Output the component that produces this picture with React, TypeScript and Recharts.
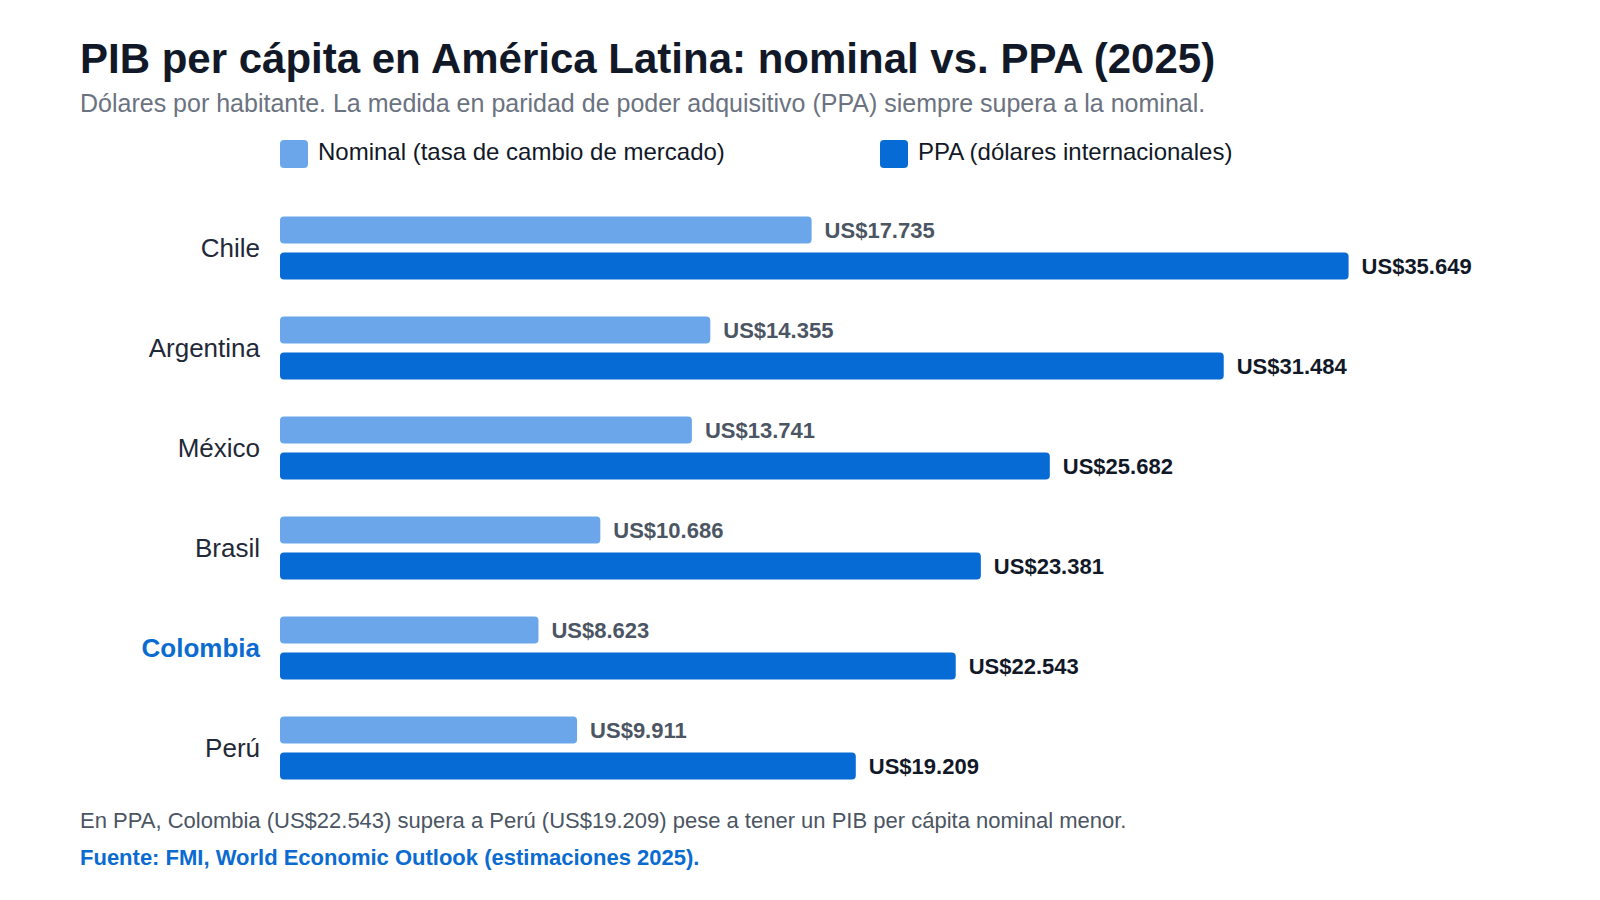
import React from 'react';
import { BarChart, Bar, XAxis, YAxis, LabelList } from 'recharts';

const countries = ['Chile', 'Argentina', 'México', 'Brasil', 'Colombia', 'Perú'];
const nominalValues = [17735, 14355, 13741, 10686, 8623, 9911];
const ppaValues = [35649, 31484, 25682, 23381, 22543, 19209];
const highlighted = 'Colombia';

const data = countries.map((name, i) => ({ name, nominal: nominalValues[i], ppa: ppaValues[i] }));

const FONT = '"Liberation Sans", Arial, Helvetica, sans-serif';
const NOMINAL_COLOR = '#6ba6eb';
const PPA_COLOR = '#066bd5';
const HIGHLIGHT = '#0b6bd0';

const fmt = (v: any) => 'US$' + String(v).replace(/\B(?=(\d{3})+(?!\d))/g, '.');

const CategoryTick = (props: any) => {
  const { x, y, payload } = props;
  const isHi = payload.value === highlighted;
  return (
    <text
      x={x}
      y={y}
      dy={9.5}
      textAnchor="end"
      fontFamily={FONT}
      fontSize={26}
      fontWeight={isHi ? 700 : 400}
      fill={isHi ? HIGHLIGHT : '#1f2937'}
    >
      {payload.value}
    </text>
  );
};

const abs = (top: number, left: number, extra: React.CSSProperties): React.CSSProperties => ({
  position: 'absolute',
  top,
  left,
  lineHeight: 1,
  whiteSpace: 'nowrap',
  fontFamily: FONT,
  margin: 0,
  ...extra,
});

export default function App() {
  return (
    <div style={{ position: 'absolute', left: 0, top: 0, width: 1600, height: 900, background: '#ffffff', fontFamily: FONT }}>
      <div style={abs(37.7, 80, { fontSize: 42, fontWeight: 700, color: '#111827' })}>
        PIB per cápita en América Latina: nominal vs. PPA (2025)
      </div>
      <div style={abs(90.5, 80, { fontSize: 25, color: '#6b7280' })}>
        Dólares por habitante. La medida en paridad de poder adquisitivo (PPA) siempre supera a la nominal.
      </div>

      <div style={{ position: 'absolute', top: 140, left: 280, width: 28, height: 28, borderRadius: 4, background: NOMINAL_COLOR }} />
      <div style={abs(139.7, 318, { fontSize: 24, color: '#111827' })}>Nominal (tasa de cambio de mercado)</div>
      <div style={{ position: 'absolute', top: 140, left: 880, width: 28, height: 28, borderRadius: 4, background: PPA_COLOR }} />
      <div style={abs(139.7, 918, { fontSize: 24, color: '#111827' })}>PPA (dólares internacionales)</div>

      <div style={{ position: 'absolute', left: 0, top: 0 }}>
        <BarChart
          width={1600}
          height={900}
          data={data}
          layout="vertical"
          margin={{ top: 197.5, right: 121, bottom: 102.5, left: 20 }}
          barSize={27}
          barGap={9}
        >
          <XAxis type="number" domain={[0, 40000]} hide />
          <YAxis
            type="category"
            dataKey="name"
            width={260}
            axisLine={false}
            tickLine={false}
            tickSize={0}
            tickMargin={20}
            tick={<CategoryTick />}
            interval={0}
          />
          <Bar dataKey="nominal" fill={NOMINAL_COLOR} radius={4} isAnimationActive={false}>
            <LabelList
              dataKey="nominal"
              position="right"
              offset={13}
              formatter={fmt}
              fill="#4b5563"
              fontSize={22}
              fontWeight={700}
              fontFamily={FONT}
            />
          </Bar>
          <Bar dataKey="ppa" fill={PPA_COLOR} radius={4} isAnimationActive={false}>
            <LabelList
              dataKey="ppa"
              position="right"
              offset={13}
              formatter={fmt}
              fill="#111827"
              fontSize={22}
              fontWeight={700}
              fontFamily={FONT}
            />
          </Bar>
        </BarChart>
      </div>

      <div style={abs(809.7, 80, { fontSize: 22, color: '#4b5563' })}>
        En PPA, Colombia (US$22.543) supera a Perú (US$19.209) pese a tener un PIB per cápita nominal menor.
      </div>
      <div style={abs(847.4, 80, { fontSize: 22, fontWeight: 700, color: HIGHLIGHT })}>
        Fuente: FMI, World Economic Outlook (estimaciones 2025).
      </div>
    </div>
  );
}
